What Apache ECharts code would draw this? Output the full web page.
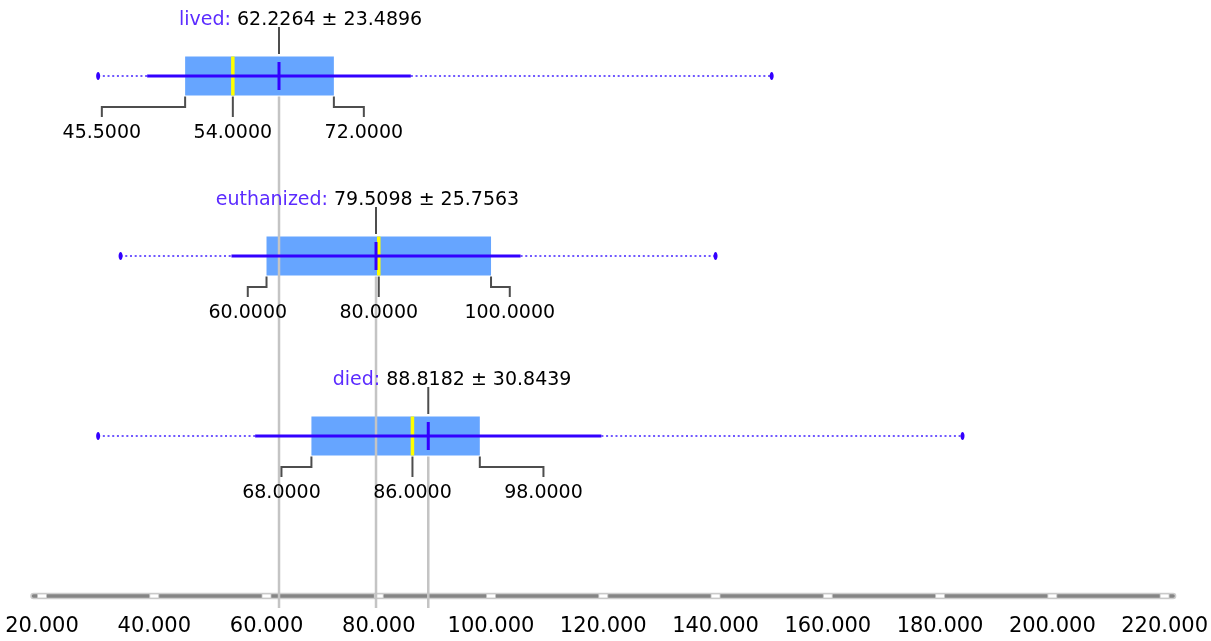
<!DOCTYPE html>
<html>
<head>
<meta charset="utf-8">
<title>Box plot</title>
<script src="https://cdn.jsdelivr.net/npm/echarts@6/dist/echarts.min.js"></script>
<style>
  html, body { margin: 0; padding: 0; background: #fff; }
  #chart { width: 1211px; height: 641px; }
</style>
</head>
<body>
<div id="chart"></div>
<script>
// data
const groups = ['lived', 'euthanized', 'died']
const mins = [30, 34, 30]
const q1s = [45.5, 60, 68]
const medians = [54, 80, 86]
const q3s = [72, 100, 98]
const maxs = [150, 140, 184]
const means = [62.2264, 79.5098, 88.8182]
const sds = [23.4896, 25.7563, 30.8439]
const xTicks = [20, 40, 60, 80, 100, 120, 140, 160, 180, 200, 220]

const FONT = 'DejaVu Sans'
const BLUE = '#3300ff'
const ROW_MAX = 26 / 9 // y range end, where the axis bar sits
const HALF_BOX = 19.5
const LABEL_SPREAD = 131 // quartile labels sit this far from the median label

const rows = groups.map((g, i) => [i, mins[i], q1s[i], medians[i], q3s[i], maxs[i], means[i], sds[i]])

const txt = (x, y, text, opts) => ({
  type: 'text',
  x: x,
  y: y,
  style: Object.assign({
    text: text,
    fill: '#000',
    fontFamily: FONT,
    fontSize: 19,
    align: 'center',
    verticalAlign: 'middle'
  }, opts || {})
})

const seg = (x1, y1, x2, y2, style) => ({
  type: 'line',
  shape: { x1: x1, y1: y1, x2: x2, y2: y2 },
  style: style
})

// box (q1..q3)
const renderBox = (params, api) => {
  const row = api.value(0)
  const a = api.coord([api.value(2), row])
  const b = api.coord([api.value(4), row])
  return {
    type: 'rect',
    shape: { x: a[0], y: a[1] - HALF_BOX, width: b[0] - a[0], height: HALF_BOX * 2 },
    style: { fill: '#66a5ff' }
  }
}

// light grey line from the mean down to the axis
const renderMeanGuide = (params, api) => {
  const row = api.value(0)
  const m = api.coord([api.value(6), row])
  const axisY = api.coord([api.value(6), ROW_MAX])[1]
  return seg(m[0], m[1] + HALF_BOX + 1, m[0], axisY + 12, { stroke: '#c4c4c4', lineWidth: 2.5 })
}

const renderMarks = (params, api) => {
  const i = params.dataIndex
  const row = api.value(0)
  const px = v => api.coord([v, row])[0]
  const y = api.coord([api.value(0), row])[1]
  const vMin = api.value(1), q1 = api.value(2), med = api.value(3)
  const q3 = api.value(4), vMax = api.value(5), mean = api.value(6), sd = api.value(7)
  const xm = px(mean), xMed = px(med), xq1 = px(q1), xq3 = px(q3)
  const dark = { stroke: '#4d4d4d', lineWidth: 2 }
  const lq1 = xMed - LABEL_SPREAD
  const lq3 = xMed + LABEL_SPREAD
  const yb = y + HALF_BOX + 1
  return {
    type: 'group',
    children: [
      // min..max dotted
      seg(px(vMin), y, px(mean - sd), y, { stroke: '#7058ff', lineWidth: 2, lineDash: [2, 2.7] }),
      seg(px(mean + sd), y, px(vMax), y, { stroke: '#7058ff', lineWidth: 2, lineDash: [2, 2.7] }),
      { type: 'ellipse', shape: { cx: px(vMin), cy: y, rx: 2, ry: 4 }, style: { fill: BLUE } },
      { type: 'ellipse', shape: { cx: px(vMax), cy: y, rx: 2, ry: 4 }, style: { fill: BLUE } },
      // median
      seg(xMed, y - HALF_BOX, xMed, y + HALF_BOX, { stroke: '#ffff00', lineWidth: 3.5 }),
      // mean +- sd
      seg(px(mean - sd), y, px(mean + sd), y, { stroke: BLUE, lineWidth: 3 }),
      seg(xm, y - 14, xm, y + 14, { stroke: BLUE, lineWidth: 3 }),
      // title
      seg(xm, y - 49, xm, y - 22, dark),
      txt(xm - 48, y - 56, groups[i] + ':', { align: 'right', fill: '#5b2bff' }),
      txt(xm - 42, y - 56, mean.toFixed(4) + ' \u00b1 ' + sd.toFixed(4), { align: 'left' }),
      // quartile connectors + labels
      {
        type: 'polyline',
        shape: { points: [[xq1, yb], [xq1, y + 31], [lq1, y + 31], [lq1, y + 41]] },
        style: Object.assign({ fill: null }, dark)
      },
      seg(xMed, yb, xMed, y + 41, dark),
      {
        type: 'polyline',
        shape: { points: [[xq3, yb], [xq3, y + 31], [lq3, y + 31], [lq3, y + 41]] },
        style: Object.assign({ fill: null }, dark)
      },
      txt(lq1, y + 57, q1.toFixed(4)),
      txt(xMed, y + 57, med.toFixed(4)),
      txt(lq3, y + 57, q3.toFixed(4))
    ]
  }
}

// axis bar with white notches at the ticks
const renderAxisBar = (params, api) => {
  const a = api.coord([api.value(0), ROW_MAX])
  const b = api.coord([api.value(1), ROW_MAX])
  return {
    type: 'rect',
    shape: { x: a[0] - 11, y: a[1] - 2.5, width: b[0] - a[0] + 22, height: 5, r: 2.5 },
    style: { fill: '#858585', stroke: '#cdcdcd', lineWidth: 1.5 }
  }
}

const renderNotch = (params, api) => {
  const p = api.coord([api.value(0), ROW_MAX])
  return {
    type: 'rect',
    shape: { x: p[0] - 4.5, y: p[1] - 2, width: 9, height: 4 },
    style: { fill: '#ffffff', stroke: '#c4c4c4', lineWidth: 0.8 }
  }
}

const chart = echarts.init(document.getElementById('chart'))
const option = {
  backgroundColor: '#ffffff',
  animation: false,
  grid: { left: 42, right: 44, top: 76, bottom: 45 },
  xAxis: {
    type: 'value',
    min: xTicks[0],
    max: xTicks[xTicks.length - 1],
    interval: xTicks[1] - xTicks[0],
    axisLine: { show: false },
    axisTick: { show: false },
    splitLine: { show: false },
    axisLabel: {
      margin: 20,
      color: '#000',
      fontFamily: FONT,
      fontSize: 21,
      formatter: v => v.toFixed(3)
    }
  },
  yAxis: {
    type: 'value',
    inverse: true,
    min: 0,
    max: ROW_MAX,
    show: false
  },
  series: [
    {
      name: 'axisBar',
      type: 'custom',
      z: 1,
      renderItem: renderAxisBar,
      data: [[xTicks[0], xTicks[xTicks.length - 1]]],
      encode: { x: [0, 1] }
    },
    {
      name: 'notches',
      type: 'custom',
      z: 2,
      renderItem: renderNotch,
      data: xTicks.map(v => [v]),
      encode: { x: 0 }
    },
    {
      name: 'boxes',
      type: 'custom',
      z: 3,
      renderItem: renderBox,
      data: rows,
      encode: { x: [2, 4], y: 0 }
    },
    {
      name: 'meanGuides',
      type: 'custom',
      z: 4,
      renderItem: renderMeanGuide,
      data: rows,
      encode: { x: 6, y: 0 }
    },
    {
      name: 'marks',
      type: 'custom',
      z: 5,
      renderItem: renderMarks,
      data: rows,
      encode: { x: [1, 5], y: 0 }
    }
  ]
}
chart.setOption(option)

window.addEventListener('resize', () => chart.resize())
</script>
</body>
</html>
